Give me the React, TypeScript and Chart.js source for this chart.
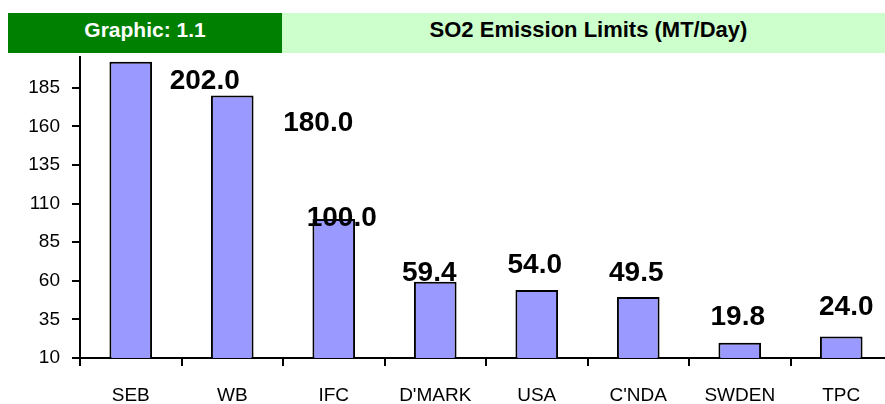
import React, { useEffect, useRef } from "react";
import { Chart, registerables } from "chart.js";

Chart.register(...registerables);

const categories = ["SEB", "WB", "IFC", "D'MARK", "USA", "C'NDA", "SWDEN", "TPC"];
const values = [202.0, 180.0, 100.0, 59.4, 54.0, 49.5, 19.8, 24.0];
const yTicks = [10, 35, 60, 85, 110, 135, 160, 185];
const labelTexts = values.map((v) => v.toFixed(1));
// label placement offsets (px) from each bar's top-centre, as in the original
const labelDx = [74, 86, 8, -6, -2, -2, -2, 5];
const labelDy = [20, 28, -1, -8, -25, -24, -26, -29];

const headerLeft = "Graphic: 1.1";
const headerTitle = "SO2 Emission Limits (MT/Day)";

const narrowFont = "'Liberation Sans Narrow', 'Arial Narrow', 'Liberation Sans', Arial, sans-serif";
const boldFont = "'Liberation Sans', Arial, sans-serif";

const labelPlugin = {
  id: "barLabels",
  afterDatasetsDraw(chart: any) {
    const meta = chart.getDatasetMeta(0);
    const ctx = chart.ctx;
    ctx.save();
    ctx.font = `bold 28px ${boldFont}`;
    ctx.fillStyle = "#000";
    ctx.textAlign = "center";
    ctx.textBaseline = "middle";
    meta.data.forEach((el: any, i: number) => {
      ctx.fillText(labelTexts[i], el.x + labelDx[i], el.y + labelDy[i]);
    });
    ctx.restore();
  },
};

export default function App() {
  const ref = useRef<HTMLCanvasElement | null>(null);

  useEffect(() => {
    document.body.style.margin = "0";
    const canvas = ref.current;
    if (!canvas) return;
    const chart = new Chart(canvas, {
      type: "bar",
      data: {
        labels: categories,
        datasets: [
          {
            data: values,
            backgroundColor: "#9999FF",
            borderColor: "#000000",
            borderWidth: 2,
            borderSkipped: false,
            categoryPercentage: 1,
            barPercentage: 0.42,
          },
        ],
      },
      options: {
        responsive: false,
        animation: false,
        devicePixelRatio: 1,
        layout: { padding: { top: 57, left: 0, right: 8, bottom: 0 } },
        plugins: {
          legend: { display: false },
          tooltip: { enabled: false },
          title: { display: false },
        },
        scales: {
          x: {
            grid: {
              offset: true,
              drawOnChartArea: false,
              drawTicks: true,
              tickLength: 8,
              color: "#000",
              lineWidth: 2,
            },
            border: { color: "#000", width: 2 },
            ticks: {
              color: "#000",
              font: { family: narrowFont, size: 19 },
              padding: 18,
              maxRotation: 0,
              autoSkip: false,
            },
            afterFit: (s: any) => {
              s.height = 46;
              s.paddingLeft = 0;
              s.paddingRight = 0;
            },
          },
          y: {
            min: 10,
            max: 205,
            afterBuildTicks: (s: any) => {
              s.ticks = yTicks.map((v) => ({ value: v }));
            },
            grid: {
              drawOnChartArea: false,
              tickLength: 8,
              color: "#000",
              lineWidth: 2,
            },
            border: { color: "#000", width: 2 },
            ticks: {
              color: "#000",
              font: { family: narrowFont, size: 19 },
              padding: 12,
            },
            afterFit: (s: any) => {
              s.width = 80;
              s.paddingTop = 0;
              s.paddingBottom = 0;
            },
          },
        },
      },
      plugins: [labelPlugin],
    });
    return () => chart.destroy();
  }, []);

  return (
    <div style={{ position: "relative", width: 885, height: 404, overflow: "hidden", background: "#fff" }}>
      <canvas ref={ref} width={900} height={404} style={{ position: "absolute", left: 0, top: 0, width: 900, height: 404 }} />
      <div
        style={{
          position: "absolute",
          left: 8,
          top: 13,
          width: 274,
          height: 40,
          boxSizing: "border-box",
          paddingBottom: 6,
          background: "#008000",
          color: "#fff",
          fontFamily: boldFont,
          fontWeight: "bold",
          fontSize: 21,
          display: "flex",
          alignItems: "center",
          justifyContent: "center",
        }}
      >
        {headerLeft}
      </div>
      <div
        style={{
          position: "absolute",
          left: 282,
          top: 13,
          width: 613,
          height: 40,
          boxSizing: "border-box",
          paddingBottom: 6,
          background: "#CCFFCC",
          color: "#000",
          fontFamily: boldFont,
          fontWeight: "bold",
          fontSize: 22,
          display: "flex",
          alignItems: "center",
          justifyContent: "center",
        }}
      >
        {headerTitle}
      </div>
    </div>
  );
}
